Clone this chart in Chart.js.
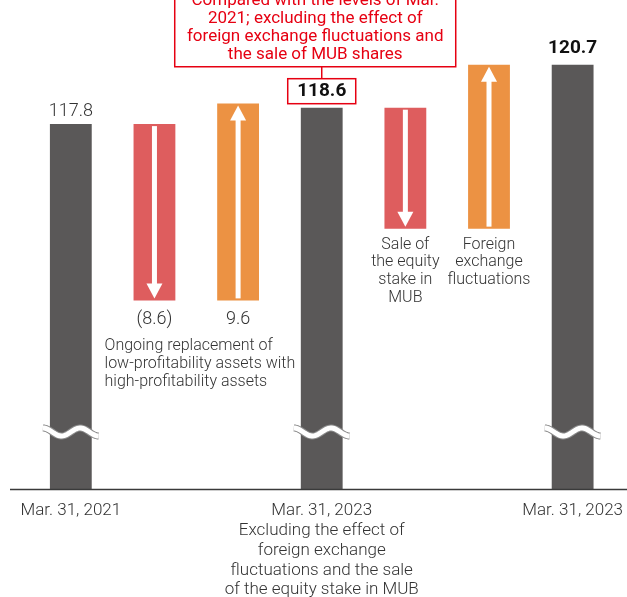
<!DOCTYPE html>
<html>
<head>
<meta charset="utf-8">
<script src="https://cdn.jsdelivr.net/npm/chart.js@4.4.0/dist/chart.umd.min.js"></script>
<style>
  html, body { margin: 0; padding: 0; background: #ffffff; }
  #wrap { width: 627px; height: 597px; position: relative; }
</style>
</head>
<body>
<div id="wrap"><canvas id="c"></canvas></div>
<script>
// ---- data ----
const categories = [
  'Mar. 31, 2021',
  '',
  '',
  ['Mar. 31, 2023', 'Excluding the effect of', 'foreign exchange', 'fluctuations and the sale', 'of the equity stake in MUB'],
  '',
  '',
  'Mar. 31, 2023'
];
const barLows  = [100, 109.2, 109.2, 100, 112.7, 112.7, 100];
const barHighs = [117.8, 117.8, 118.8, 118.6, 118.6, 120.7, 120.7];
const barKinds = ['total', 'down', 'up', 'total', 'down', 'up', 'total'];
const valueLabels = ['117.8', '(8.6)', '9.6', '118.6', '', '', '120.7'];
const axisMin = 100;
const axisMax = 122;

const annotationLines = [
  'Compared with the levels of Mar.',
  '2021; excluding the effect of',
  'foreign exchange fluctuations and',
  'the sale of MUB shares'
];
const replacementLines = ['Ongoing replacement of', 'low-profitability assets with', 'high-profitability assets'];
const mubLines = ['Sale of', 'the equity', 'stake in', 'MUB'];
const fxLines = ['Foreign', 'exchange', 'fluctuations'];

// ---- styles ----
const COLORS = { total: '#5a5858', down: '#de5d5e', up: '#ec9243' };
const TEXT = '#333333';
const RED = '#e60012';
const FONT = 'Roboto, "Noto Sans", sans-serif';

const decorPlugin = {
  id: 'decor',
  afterDatasetsDraw(chart) {
    const ctx = chart.ctx;
    const meta = chart.getDatasetMeta(0);
    const area = chart.chartArea;
    const els = meta.data;

    ctx.save();
    // axis line
    ctx.strokeStyle = '#3a3a3a';
    ctx.lineWidth = 1.5;
    ctx.beginPath();
    ctx.moveTo(10, area.bottom + 0.5);
    ctx.lineTo(chart.width, area.bottom + 0.5);
    ctx.stroke();

    els.forEach((el, i) => {
      const kind = barKinds[i];
      const top = Math.min(el.y, el.base);
      const bottom = Math.max(el.y, el.base);
      const x = el.x;
      if (kind === 'total') {
        // break squiggle
        const yc = area.bottom - 57;
        const x0 = x - el.width / 2 - 7;
        const w = el.width + 14;
        const pts = [];
        for (let t = 0; t <= 1.0001; t += 0.02) {
          pts.push([x0 + t * w, yc - 4 * Math.cos(3 * Math.PI * t)]);
        }
        const path = () => {
          ctx.beginPath();
          pts.forEach((p, k) => k ? ctx.lineTo(p[0], p[1]) : ctx.moveTo(p[0], p[1]));
        };
        ctx.lineCap = 'butt';
        ctx.strokeStyle = '#8a8a8a';
        ctx.lineWidth = 7;
        path(); ctx.stroke();
        ctx.strokeStyle = '#ffffff';
        ctx.lineWidth = 5;
        path(); ctx.stroke();
      } else {
        // white arrow
        ctx.fillStyle = '#ffffff';
        const shaftW = 5;
        const headW = 16, headH = 15;
        if (kind === 'down') {
          const tip = bottom - 2;
          ctx.fillRect(x - shaftW / 2, top + 2, shaftW, tip - headH - top - 2 + 1);
          ctx.beginPath();
          ctx.moveTo(x - headW / 2, tip - headH);
          ctx.lineTo(x + headW / 2, tip - headH);
          ctx.lineTo(x, tip);
          ctx.closePath();
          ctx.fill();
        } else {
          const tip = top + 2;
          ctx.fillRect(x - shaftW / 2, tip + headH - 1, shaftW, bottom - 2 - tip - headH + 1);
          ctx.beginPath();
          ctx.moveTo(x - headW / 2, tip + headH);
          ctx.lineTo(x + headW / 2, tip + headH);
          ctx.lineTo(x, tip);
          ctx.closePath();
          ctx.fill();
        }
      }
    });

    ctx.textAlign = 'center';
    ctx.textBaseline = 'middle';

    // value labels
    const e0 = els[0], e1 = els[1], e2 = els[2], e3 = els[3], e4 = els[4], e5 = els[5], e6 = els[6];
    ctx.fillStyle = TEXT;
    ctx.font = '300 18px ' + FONT;
    ctx.fillText(valueLabels[0], e0.x, e0.y - 13);
    ctx.fillText(valueLabels[1], e1.x, e1.base + 19);
    ctx.fillText(valueLabels[2], e2.x, e2.base + 19);
    ctx.font = 'bold 19px ' + FONT;
    ctx.fillStyle = '#111111';
    ctx.fillText(valueLabels[6], e6.x, e6.y - 16);

    // 118.6 boxed
    const bx = e3.x, bBottom = e3.y - 4, bTop = bBottom - 25;
    ctx.fillStyle = '#ffffff';
    ctx.fillRect(bx - 34, bTop, 68, 25);
    ctx.strokeStyle = RED;
    ctx.lineWidth = 1.5;
    ctx.strokeRect(bx - 34, bTop, 68, 25);
    ctx.fillStyle = '#111111';
    ctx.fillText(valueLabels[3], bx, bTop + 13);

    // connector + annotation box
    const aBottom = bTop - 12;
    ctx.beginPath();
    ctx.moveTo(bx, bTop);
    ctx.lineTo(bx, aBottom);
    ctx.stroke();
    const aLeft = bx - 147, aRight = bx + 134;
    ctx.beginPath();
    ctx.moveTo(aLeft, -5);
    ctx.lineTo(aLeft, aBottom);
    ctx.lineTo(aRight, aBottom);
    ctx.lineTo(aRight, -5);
    ctx.stroke();
    ctx.fillStyle = RED;
    ctx.font = '17px ' + FONT;
    const acx = (aLeft + aRight) / 2;
    const n = annotationLines.length;
    annotationLines.forEach((s, k) => {
      ctx.fillText(s, acx, aBottom - 12 - (n - 1 - k) * 18);
    });

    // descriptive texts
    ctx.fillStyle = TEXT;
    ctx.font = '300 16px ' + FONT;
    ctx.textAlign = 'left';
    replacementLines.forEach((s, k) => {
      ctx.fillText(s, e1.x - e1.width / 2 - 29, e1.base + 46 + k * 18);
    });
    ctx.textAlign = 'center';
    mubLines.forEach((s, k) => {
      ctx.fillText(s, e4.x, e4.base + 16 + k * 17.7);
    });
    fxLines.forEach((s, k) => {
      ctx.fillText(s, e5.x, e5.base + 16 + k * 17.7);
    });
    ctx.restore();
  }
};

new Chart(document.getElementById('c'), {
  type: 'bar',
  data: {
    labels: categories,
    datasets: [{
      data: barLows.map((lo, i) => [lo, barHighs[i]]),
      backgroundColor: barKinds.map(k => COLORS[k]),
      borderWidth: 0,
      barPercentage: 0.5,
      categoryPercentage: 1.0
    }]
  },
  options: {
    responsive: true,
    maintainAspectRatio: false,
    animation: false,
    events: [],
    layout: { padding: { top: 38, left: 29, right: 0, bottom: 0 } },
    plugins: { legend: { display: false }, tooltip: { enabled: false } },
    scales: {
      y: { display: false, min: axisMin, max: axisMax },
      x: {
        grid: { display: false },
        border: { display: false },
        afterFit: (scale) => { scale.height = 108; },
        ticks: {
          autoSkip: false,
          maxRotation: 0,
          minRotation: 0,
          padding: 4,
          color: TEXT,
          font: { family: FONT, size: 17, weight: '300', lineHeight: 1.165 }
        }
      }
    }
  },
  plugins: [decorPlugin]
});
</script>
</body>
</html>
